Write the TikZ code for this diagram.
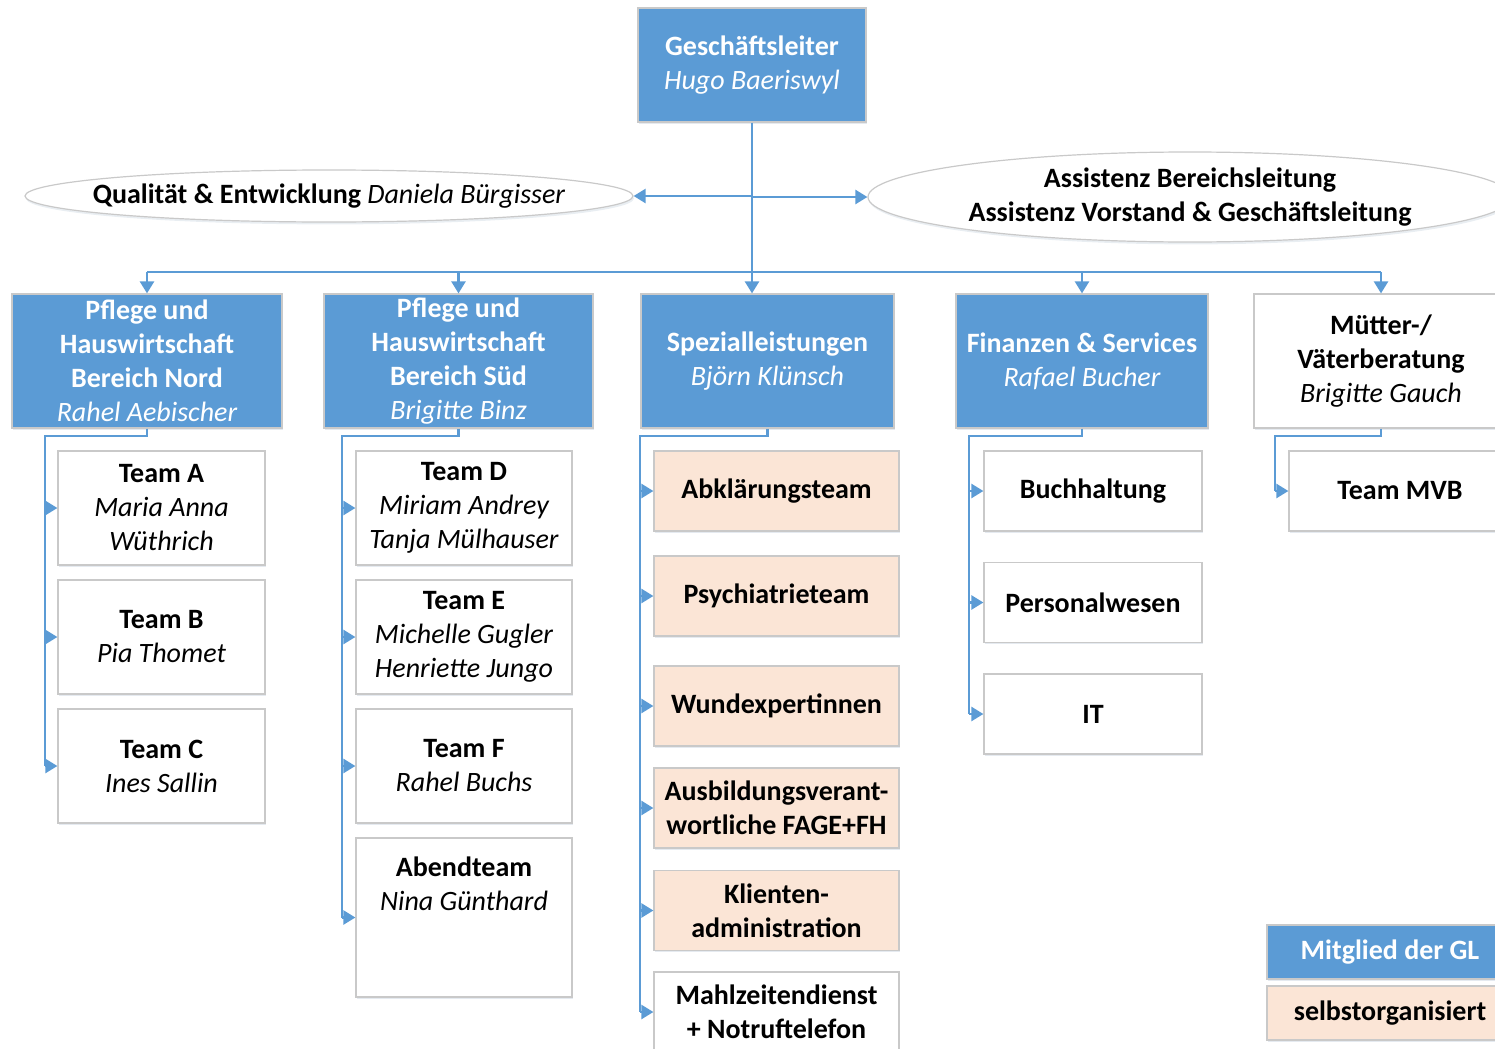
\documentclass[tikz,border=0pt]{standalone}
\usepackage{fontspec}
\setmainfont{Carlito}
\usetikzlibrary{arrows.meta,shapes.geometric,shadows}
\definecolor{glblue}{HTML}{5B9BD5}
\definecolor{peach}{HTML}{FBE5D6}
\definecolor{rim}{HTML}{C9C9C9}
\newcommand{\pname}[1]{{\mdseries\itshape #1}}
\tikzset{
	box/.style={rectangle, draw=rim, line width=0.6pt, align=center, inner sep=0pt,
		font=\fontsize{14}{17}\selectfont\bfseries,
		drop shadow={shadow xshift=0.7pt, shadow yshift=-0.9pt, opacity=0.18, fill=glblue!50!gray}},
	glbox/.style={box, fill=glblue, text=white},
	wbox/.style={box, fill=white},
	selfbox/.style={box, fill=peach},
	oval/.style={ellipse, draw=rim, fill=white, line width=0.6pt, inner sep=0pt,
		drop shadow={shadow xshift=0.5pt, shadow yshift=-1.2pt, opacity=0.15, fill=glblue!50!gray}},
	ovaltext/.style={align=center, inner sep=0pt, font=\fontsize{14}{17}\selectfont\bfseries},
	link/.style={draw=glblue, line width=1.2pt},
	arr/.style={link, -{Triangle[width=7pt,length=6pt]}}
}
\begin{document}
\begin{tikzpicture}[x=0.5pt,y=-0.5pt]
		\useasboundingbox (0,0) rectangle (1495,1049);
		\clip (0,0) rectangle (1495,1049);
		\node[glbox, minimum width=114pt, minimum height=57pt] (chef) at (752,65) {Geschäftsleiter\\\pname{Hugo Baeriswyl}};
		\node[oval, minimum width=304pt, minimum height=26pt] (qe) at (329,196) {};
		\node[ovaltext] (qetext) at (qe.center) {Qualität \& Entwicklung \pname{Daniela Bürgisser}};
		\node[oval, minimum width=322pt, minimum height=45pt] (asst) at (1190,197) {};
		\node[ovaltext] (assttext) at (asst.center) {Assistenz Bereichsleitung\\Assistenz Vorstand \& Geschäftsleitung};
		\node[glbox, minimum width=135pt, minimum height=67pt] (nord) at (147,361) {Pflege und\\Hauswirtschaft\\Bereich Nord\\\pname{Rahel Aebischer}};
		\node[glbox, minimum width=134.5pt, minimum height=67pt] (sued) at (458.5,361) {Pflege und\\Hauswirtschaft\\Bereich Süd\\\pname{Brigitte Binz}};
		\node[glbox, minimum width=126.5pt, minimum height=67pt] (spez) at (767.5,361) {Spezialleistungen\\\pname{Björn Klünsch}};
		\node[glbox, minimum width=126pt, minimum height=67pt] (fin) at (1082,361) {Finanzen \& Services\\\pname{Rafael Bucher}};
		\node[wbox, minimum width=127pt, minimum height=67pt] (mvb) at (1381,361) {Mütter-/\\Väterberatung\\\pname{Brigitte Gauch}};
		\node[wbox, minimum width=103.5pt, minimum height=57pt] (teamA) at (161.5,508) {Team A\\\pname{Maria Anna}\\\pname{Wüthrich}};
		\node[wbox, minimum width=103.5pt, minimum height=57pt] (teamB) at (161.5,637) {Team B\\\pname{Pia Thomet}};
		\node[wbox, minimum width=103.5pt, minimum height=57pt] (teamC) at (161.5,766) {Team C\\\pname{Ines Sallin}};
		\node[wbox, minimum width=108pt, minimum height=57pt] (teamD) at (464,508) {Team D\\\pname{Miriam Andrey}\\\pname{Tanja Mülhauser}};
		\node[wbox, minimum width=108pt, minimum height=57pt] (teamE) at (464,637) {Team E\\\pname{Michelle Gugler}\\\pname{Henriette Jungo}};
		\node[wbox, minimum width=108pt, minimum height=57pt] (teamF) at (464,766) {Team F\\\pname{Rahel Buchs}};
		\node[wbox, minimum width=108pt, minimum height=79.5pt] (abend) at (464,917.5) {Abendteam\\\pname{Nina Günthard}\\~\\~};
		\node[selfbox, minimum width=122.5pt, minimum height=40pt] (abkl) at (776.5,491) {Abklärungsteam};
		\node[selfbox, minimum width=122.5pt, minimum height=40pt] (psych) at (776.5,596) {Psychiatrieteam};
		\node[selfbox, minimum width=122.5pt, minimum height=40pt] (wund) at (776.5,706) {Wundexpertinnen};
		\node[selfbox, minimum width=122.5pt, minimum height=40pt] (ausb) at (776.5,808) {Ausbildungsverant-\\wortliche FAGE+FH};
		\node[selfbox, minimum width=122.5pt, minimum height=40pt] (klient) at (776.5,910.5) {Klienten-\\administration};
		\node[wbox, minimum width=122.5pt, minimum height=40pt] (mahl) at (776.5,1012) {Mahlzeitendienst\\+ Notruftelefon};
		\node[wbox, minimum width=109pt, minimum height=40pt] (buch) at (1093,491) {Buchhaltung};
		\node[wbox, minimum width=109pt, minimum height=40pt] (pers) at (1093,602.5) {Personalwesen};
		\node[wbox, minimum width=109pt, minimum height=40pt] (it) at (1093,714) {IT};
		\node[wbox, minimum width=111pt, minimum height=40pt] (teammvb) at (1400,491) {Team MVB};
		\node[glbox, minimum width=123pt, minimum height=27pt] (leggl) at (1390,952) {Mitglied der GL};
		\node[selfbox, minimum width=123pt, minimum height=27pt] (legself) at (1390,1013) {selbstorganisiert};
		\coordinate (bus) at (752,272);
		\draw[arr] (chef.south) -- (chef.south |- spez.north);
		\draw[arr] (chef.south |- qe.east) -- (qe.east);
		\draw[arr] (chef.south |- asst.west) -- (asst.west);
		\draw[link] (nord.north |- bus) -- (mvb.north |- bus);
		\foreach \b in {nord,sued,fin,mvb}
			\draw[arr] (\b.north |- bus) -- (\b.north);
		\coordinate (nordtrunk) at (45,436);
		\coordinate (suedtrunk) at (342,436);
		\coordinate (speztrunk) at (640,436);
		\coordinate (fintrunk) at (969,436);
		\coordinate (mvbtrunk) at (1275,436);
		\draw[link] (nord.south) |- (nordtrunk) -- (nordtrunk |- teamC.west);
		\draw[link] (sued.south) |- (suedtrunk) -- (suedtrunk |- abend.west);
		\draw[link] (spez.south) |- (speztrunk) -- (speztrunk |- mahl.west);
		\draw[link] (fin.south) |- (fintrunk) -- (fintrunk |- it.west);
		\draw[link] (mvb.south) |- (mvbtrunk) -- (mvbtrunk |- teammvb.west);
		\foreach \t in {teamA,teamB,teamC}
			\draw[arr] (nordtrunk |- \t.west) -- (\t.west);
		\foreach \t in {teamD,teamE,teamF,abend}
			\draw[arr] (suedtrunk |- \t.west) -- (\t.west);
		\foreach \t in {abkl,psych,wund,ausb,klient,mahl}
			\draw[arr] (speztrunk |- \t.west) -- (\t.west);
		\foreach \t in {buch,pers,it}
			\draw[arr] (fintrunk |- \t.west) -- (\t.west);
		\draw[arr] (mvbtrunk |- teammvb.west) -- (teammvb.west);
	\end{tikzpicture}
\end{document}
